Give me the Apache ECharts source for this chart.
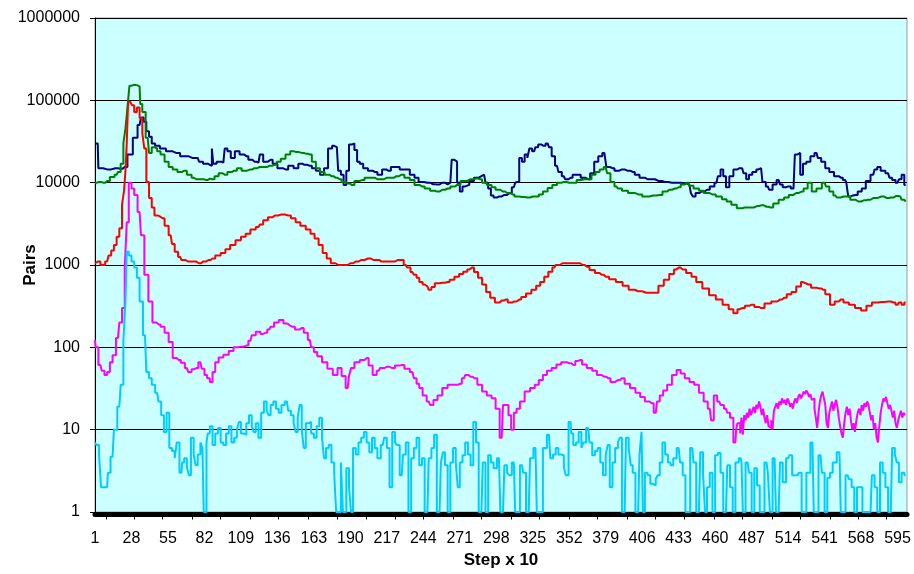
<!DOCTYPE html>
<html>
<head>
<meta charset="utf-8">
<script src="https://cdn.jsdelivr.net/npm/echarts@6/dist/echarts.min.js"></script>
<style>
html,body{margin:0;padding:0;background:#fff;}
#chart{width:914px;height:574px;}
</style>
</head>
<body>
<div id="chart"></div>
<script>
// Category labels: steps 1..602
const stepCount = 602;
const categories = Array.from({length: stepCount}, (_, i) => String(i + 1));

// Navy series: [step], [value]
const navySteps = [1,3,4,10,16,20,23,27,31,34,36,38,40,42,44,47,51,56,61,67,73,77,79,83,86,87,88,89,93,96,98,100,103,106,110,113,116,119,122,124,127,131,134,138,142,146,150,153,156,160,163,166,169,172,175,178,180,182,184,186,188,190,192,194,196,198,201,205,208,212,215,218,222,225,228,232,236,239,242,247,251,254,258,262,264,266,268,270,272,274,276,280,283,287,289,291,293,295,297,300,304,308,311,313,314,316,318,320,322,323,326,328,330,333,336,338,340,343,345,348,350,353,356,359,362,366,369,372,375,378,379,380,384,387,391,395,399,402,406,410,413,418,423,428,433,437,441,443,444,447,450,454,458,461,463,465,467,469,472,475,478,480,482,484,486,489,492,494,496,499,501,504,507,509,511,514,518,520,522,524,526,529,532,535,537,540,543,546,550,553,556,558,559,562,564,567,570,573,577,579,581,584,588,590,592,595,597,599,601];
const navyValues = [30000,30000,15000,14500,15000,14800,15500,22000,35000,50000,62000,55000,42000,36000,30000,28000,26000,24000,23000,21000,20000,20000,18000,17000,16500,16000,26000,17000,18000,17500,26000,24000,20000,24000,22000,21000,19000,18000,17500,22000,18000,19000,17000,15000,14500,16000,15000,17000,16500,16000,15000,14000,12500,15000,26000,28000,27000,14000,12500,9400,14000,29000,30000,25000,18000,17000,15000,14000,13500,12500,14500,14000,15500,15500,14500,14500,12500,11500,10200,10000,9600,9500,10000,9500,10000,19000,18000,10000,7800,9000,9400,10500,11500,12000,12500,10000,8500,7000,6600,6800,7100,7500,8800,10000,10200,20000,18000,22000,20000,26000,24000,27000,29000,28000,30000,27000,21000,16000,13500,12000,11000,11500,12500,12500,11500,11000,13000,18000,21000,23000,23000,15500,15000,14000,14500,14000,13500,12500,11500,11000,11000,10500,10200,10000,10000,9800,9400,7500,6800,7500,7800,8200,9000,10000,12000,14500,12000,8800,12000,14500,15000,15000,13000,11000,12500,13500,14500,15000,10200,9000,8200,9500,10800,9500,8800,9000,8500,22000,23000,12500,17000,18000,21000,23000,20000,18000,15000,13500,12000,11500,10800,10200,6800,7000,7100,7800,8500,10500,12500,14500,15500,14000,13000,11500,10800,10000,11000,12500,9400];

// Green series
const greenSteps = [1,4,7,10,14,17,19,21,23,24,25,26,27,29,31,34,35,37,40,42,44,46,48,51,54,57,60,64,67,71,74,76,80,83,86,88,91,94,97,101,104,108,111,116,119,123,127,130,134,137,140,144,147,150,154,157,160,163,166,169,173,176,179,182,185,188,191,195,199,202,206,210,213,217,221,224,228,232,236,239,243,247,251,254,258,262,266,269,274,279,283,286,289,293,296,299,303,306,310,313,317,321,325,328,331,334,338,341,345,348,352,356,359,363,367,370,373,376,379,381,384,387,389,393,398,403,409,414,419,423,426,430,433,436,439,442,446,450,453,458,463,467,470,474,478,482,487,491,494,498,501,505,509,513,516,520,524,527,530,533,537,541,543,546,549,551,555,558,562,566,570,573,577,583,587,590,594,597,599,601];
const greenValues = [10000,10200,10000,10500,11700,12500,13500,17000,30000,45000,66000,100000,150000,155000,152000,148000,90000,72000,35000,23000,27000,26000,24000,22000,18000,15500,14500,13500,14000,12500,11500,11000,11000,10800,11200,11000,12000,13000,12500,13500,14000,15000,14000,14500,15000,15500,15500,16000,16500,18000,19500,22000,24000,23500,23000,22500,22000,18000,15000,13500,12500,12000,11500,11000,10200,9800,9400,10500,10800,11500,11500,11000,11000,11500,11500,12000,12500,11500,10800,9400,9000,8500,8000,7800,8200,8500,9000,9400,10500,11000,11200,11000,10000,9400,8800,8200,7800,7500,7200,6800,6700,6600,6800,6800,7200,7800,8600,9400,10000,10200,10000,10000,10800,11000,11000,12500,13500,14500,15500,13000,10200,9000,8500,8000,7500,7200,6800,7000,7100,7800,8200,8500,8800,9500,10000,9200,8500,8000,7500,7200,6800,6300,5900,5400,4900,5000,5000,5200,5300,5100,5000,5600,6200,6600,7100,7500,7800,8500,10000,7800,8500,10000,9000,7800,7000,6600,6800,6800,6200,5900,6100,6200,6500,6800,6500,6600,6900,6800,6200,5900];

// Red series
const redSteps = [1,3,7,10,12,14,16,18,20,22,23,24,25,26,28,29,31,33,35,37,38,40,42,44,46,49,51,54,57,59,61,64,66,70,74,78,81,85,88,92,96,99,103,107,111,114,118,122,124,127,131,134,139,144,148,151,155,159,162,165,168,171,174,177,181,186,190,194,198,203,207,210,213,217,221,225,228,231,233,236,238,240,242,245,247,249,251,254,258,262,265,269,272,275,278,280,283,286,289,292,295,299,302,305,308,311,315,318,322,326,329,332,335,338,341,343,347,350,354,358,362,365,369,373,376,379,384,389,394,398,403,409,413,416,420,424,428,431,433,436,441,444,448,453,458,463,468,472,475,478,480,484,487,491,494,499,504,508,511,515,518,522,525,527,529,533,537,540,543,547,550,553,557,561,566,570,574,578,583,588,592,595,597,599,601];
const redValues = [1050,1100,1000,1100,1300,1500,1750,2200,2800,5400,8000,13500,30000,96000,95000,87000,72000,82000,61000,40000,26000,10200,6500,5000,4000,3900,3700,3000,2300,1800,1450,1250,1150,1100,1100,1050,1100,1150,1200,1300,1400,1550,1750,2000,2200,2400,2700,2900,3100,3500,3800,4000,4100,4000,3700,3300,3000,2700,2400,2100,1750,1400,1200,1050,1000,1000,1050,1100,1150,1200,1150,1150,1100,1100,1100,1150,1150,1000,930,820,760,700,620,580,550,500,540,600,610,620,660,720,780,830,880,930,820,700,580,470,400,350,370,380,350,360,380,410,450,500,560,620,720,830,930,1000,1050,1050,1050,1050,1000,950,870,800,760,720,670,620,560,500,480,460,460,460,560,660,780,880,930,880,800,720,620,520,430,380,330,290,260,290,300,320,330,310,300,340,360,380,400,440,470,550,620,600,580,530,520,500,440,330,360,380,350,330,300,280,320,350,355,360,350,330,350,330,350];

// Magenta series
const magentaSteps = [1,2,5,7,9,11,13,15,18,20,22,24,25,27,29,31,34,36,39,42,45,48,51,54,57,60,63,66,69,71,74,76,79,81,83,85,87,89,91,94,98,102,105,109,113,116,118,122,125,127,130,132,135,139,142,145,147,151,154,157,160,162,164,167,171,175,179,182,185,188,190,191,195,199,202,205,208,211,213,217,221,225,228,232,236,238,240,242,245,248,250,253,256,260,264,268,271,274,276,279,282,286,289,293,296,299,302,304,306,308,310,312,314,317,321,325,328,331,334,337,341,344,348,352,355,358,360,363,367,371,374,378,381,384,388,391,395,399,403,406,410,413,416,418,420,423,426,430,433,436,439,443,446,450,453,456,458,460,463,465,468,470,472,475,476,477,478,479,480,481,482,483,484,485,486,487,488,489,490,491,492,493,494,495,496,497,498,499,500,501,502,503,504,505,506,507,508,509,510,511,512,513,514,515,516,517,518,519,520,521,522,523,524,525,526,527,528,529,530,531,532,533,534,535,536,537,538,539,540,541,542,543,544,545,546,547,548,549,550,551,552,553,554,555,556,557,558,559,560,561,562,563,564,565,566,567,568,569,570,571,572,573,574,575,576,577,578,579,580,581,582,583,584,585,586,587,588,589,590,591,592,593,594,595,596,597,598,599,600,601];
const magentaValues = [123,100,61,52,46,50,66,80,130,200,300,930,3300,10000,8500,7100,4400,2300,760,360,200,190,178,150,116,74,70,65,56,50,54,56,66,55,46,42,38,50,66,75,81,90,100,102,105,120,140,155,145,150,165,178,200,215,195,185,178,165,172,150,123,100,88,78,66,55,46,56,45,32,45,56,66,70,74,60,46,52,56,58,56,60,61,55,50,42,36,32,26,22,20,23,26,32,35,35,36,42,46,44,42,35,29,26,24,18,8,20,20,15,10,16,18,22,29,32,35,40,46,52,56,62,66,64,61,68,70,62,56,52,46,44,42,38,40,42,36,32,28,25,22,21,16,22,26,30,35,46,53,48,42,38,35,28,22,18,13,26,22,20,18,16,14,7,10,12,12,9,14,8.7,15,13,16,14,18,15,17,19,16,20,18,22,19,15,18,14,12,15,11,10.5,13,10,17,19,21,18,22,20,24,21,23,20,24,22,19,21,18,22,24,21,25,27,24,26,29,27,30,28,25,27,23,24,18,14,10.5,16,22,26,29,24,20,12,10.5,16,19,22,17,20,23,19,14,11,9,8,12,16,19,15,18,13,10,12,9.4,13,16,18,15,20,17,21,19,22,20,16,13,15,10,12,8,7,11,16,20,24,22,25,21,18,20,17,14,17,12,10.5,13,15,17,14,16,15];

// Cyan series
const cyanSteps = [1,3,5,6,10,11,14,16,19,21,23,24,25,27,29,31,33,35,38,40,42,44,47,49,51,53,55,57,59,61,62,65,66,68,70,71,73,75,76,78,80,81,82,83,84,85,87,89,91,93,95,97,99,101,103,105,107,108,110,112,114,116,118,119,121,123,125,127,129,130,132,134,136,138,140,143,145,147,149,150,152,153,155,156,158,160,162,164,166,168,170,171,173,175,177,179,180,182,184,185,186,188,190,191,193,195,197,199,201,203,205,207,209,211,214,216,218,220,222,224,225,228,230,232,234,236,238,240,242,244,246,247,249,251,253,255,256,258,259,261,263,265,267,269,270,272,274,276,278,280,282,284,286,287,289,291,293,295,297,300,302,303,305,307,308,311,313,314,317,319,321,322,324,327,329,331,334,337,339,341,343,345,347,349,350,353,354,356,358,360,362,363,366,368,370,372,374,376,378,380,381,383,385,387,389,390,392,393,395,397,398,400,402,403,405,406,407,409,411,413,415,417,418,420,422,424,426,428,430,433,435,437,439,440,443,445,447,448,450,452,453,455,457,459,461,463,465,467,468,470,472,474,476,479,480,481,484,486,488,490,492,494,495,498,500,501,504,506,507,509,511,514,516,518,521,523,525,526,529,532,534,535,538,540,542,544,546,548,552,554,555,558,560,562,564,566,568,570,572,575,577,579,581,583,585,587,589,590,592,594,595,597,599,601];
const cyanValues = [7,6.5,4.9,2,2,3,4.7,10,19,35,120,350,1450,1300,1100,930,700,360,140,50,42,35,28,22,15,9.4,16,6,5.5,4.5,7,3,4,4.5,3.5,2.8,8,5,3.7,5,7,6,1,1,7,9,11,6.5,9,10.5,7,6.5,9,11,7,8,10,12.4,9,8.7,12,15,11,9.4,12,8,16,22,17,15,20,22,18,16,20,22,17,15,12,9.4,14,20,10,6,12,12.4,9,8,11,14,8,4.5,6,6.5,4,3,1,1,4,1,1,3.4,2,1,6,5,7,8,9.4,7,5.3,8,6,4.5,6.5,8,6,2,9.4,7,6.5,2.8,5,7,1,4.5,6,8,3.7,4.5,1,1,4.5,6,8.7,1,1,4,5.3,3.7,1,4,6,4,2,4,4.9,7,5,3.7,12.4,7,1,1,4,1,4.9,4,3.4,4.5,1,1,3.7,3,2.8,4,1,1,3.7,3,1,1,4.5,6,1,1,6,8.7,4.5,5,6,5,4.9,3.5,2.8,12.4,9,6.5,7,9.4,6,7,10.5,7,4.9,5.5,6,4,2.8,5,6.5,2,4,6,7,8,1,1,8,6,3.7,3,1,1,5,9.4,1,3,2.8,2.2,2.1,2.5,2.8,4,7,5,4,3.7,4.5,6,4,2.8,1,1,6,4,1,1,5.3,3,1,2,3,1,4.9,5.2,3,1,1,3.7,2,1,4,4.5,4,1,4,3,1,3.4,2.1,1,1,4,3,1,4.5,1,1,4,2.3,4.5,4.9,2.8,2.8,3,1,1,3,7,1,1,4.9,3,1,2.6,3,4,5.3,1,1,2.8,2.5,2,1,2,2,1,1,1,2.8,2,1,4,3,2,1,1,6,5,4,2.3,3,2.8];

// Y tick labels (log decades)
const yTicks = [1, 10, 100, 1000, 10000, 100000, 1000000];
// X labels shown every 27 steps: 1, 28, 55, ... 595
const xLabelEvery = 27;

function pairs(steps, values) {
  return steps.map((s, i) => [s - 1, values[i]]);
}

const font = "'Liberation Sans', Arial, sans-serif";
const chart = echarts.init(document.getElementById('chart'), null, {renderer: 'canvas'});

const seriesDefs = [
  {name: 'navy', color: '#000080', data: pairs(navySteps, navyValues)},
  {name: 'green', color: '#008000', data: pairs(greenSteps, greenValues)},
  {name: 'red', color: '#FF0000', data: pairs(redSteps, redValues)},
  {name: 'magenta', color: '#FF00FF', data: pairs(magentaSteps, magentaValues)},
  {name: 'cyan', color: '#00CCFF', data: pairs(cyanSteps, cyanValues)}
];

chart.setOption({
  animation: false,
  backgroundColor: '#ffffff',
  grid: {
    left: 95, top: 18, right: 7, bottom: 62,
    containLabel: false, outerBoundsMode: 'none',
    show: true, backgroundColor: '#CCFFFF', borderColor: '#9a9a9a', borderWidth: 1
  },
  xAxis: [
    {
      type: 'category', data: categories, boundaryGap: false,
      axisLine: {show: true, lineStyle: {color: '#000', width: 1}},
      axisTick: {show: false},
      axisLabel: {interval: xLabelEvery - 1, color: '#000', fontSize: 16, fontFamily: font, margin: 19},
      splitLine: {show: false},
      name: 'Step x 10', nameLocation: 'middle', nameGap: 40, nameMoveOverlap: false,
      nameTextStyle: {fontSize: 17, fontWeight: 'bold', color: '#000', fontFamily: font}
    },
    {
      type: 'category', data: categories, boundaryGap: false, position: 'bottom', offset: 2.5,
      axisLine: {show: true, lineStyle: {color: '#000', width: 5}},
      axisTick: {
        show: true, length: 5, lineStyle: {color: '#000', width: 1},
        interval: function (idx) {
          const r = (idx - 7.6) / 21.44;
          return Math.abs(r - Math.round(r)) * 21.44 < 0.5;
        }
      },
      axisLabel: {show: false},
      splitLine: {show: false}
    }
  ],
  yAxis: {
    type: 'log', logBase: 10, min: yTicks[0], max: yTicks[yTicks.length - 1],
    axisLine: {show: true, lineStyle: {color: '#000', width: 1}},
    axisTick: {show: true, length: 5, lineStyle: {color: '#000'}},
    axisLabel: {color: '#000', fontSize: 16, fontFamily: font, margin: 15,
      formatter: function (v) { return String(Math.round(v)); }},
    splitLine: {show: true, lineStyle: {color: '#000', width: 1}},
    minorTick: {show: false},
    name: 'Pairs', nameLocation: 'middle', nameGap: 56, nameRotate: 90, nameMoveOverlap: false,
    nameTextStyle: {fontSize: 17, fontWeight: 'bold', color: '#000', fontFamily: font}
  },
  series: seriesDefs.map(s => ({
    name: s.name, type: 'line', xAxisIndex: 0, data: s.data,
    showSymbol: false, symbol: 'none', smooth: false, step: 'middle',
    lineStyle: {color: s.color, width: 2},
    itemStyle: {color: s.color},
    emphasis: {disabled: true}
  }))
});
</script>
</body>
</html>
